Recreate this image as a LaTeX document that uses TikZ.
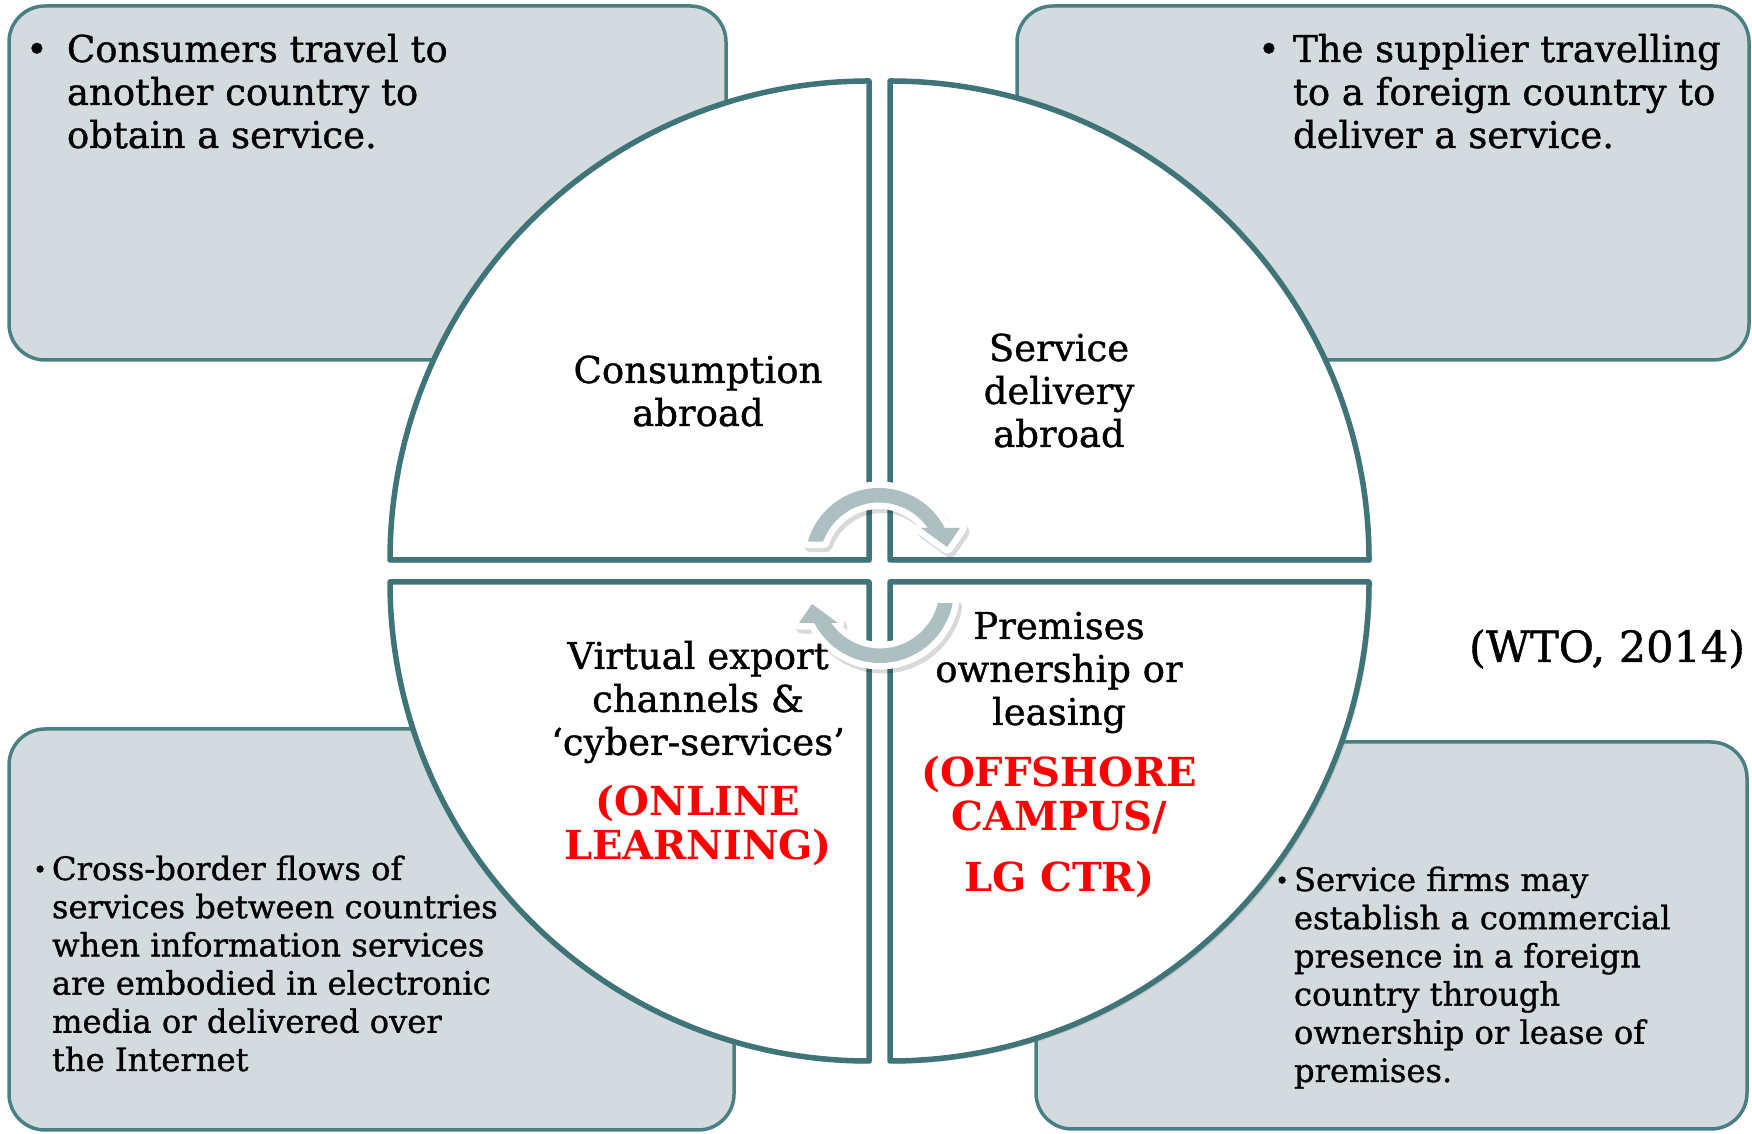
\documentclass[tikz,border=0pt]{standalone}
\usepackage{fontspec}
\setmainfont{DejaVu Serif}[FakeBold=1.0]
\newfontfamily\redfont{DejaVu Serif Bold}
\usetikzlibrary{shadows}
\definecolor{quadline}{HTML}{3F7479}
\definecolor{boxline}{HTML}{4A7F84}
\definecolor{boxfill}{HTML}{D3DBDE}
\definecolor{cycfill}{HTML}{AEBFC2}
\definecolor{mred}{HTML}{FF0000}
\newcommand\bigtxt{\fontsize{37}{43}\selectfont}
\newcommand\smalltxt{\fontsize{32.2}{38.2}\selectfont}
\newcommand\redtxt{\redfont\fontsize{40}{44}\selectfont\color{mred}}
\newcommand\smallbullet{\makebox[19pt][l]{\fontsize{24}{24}\selectfont\raisebox{2pt}{•}}}
\newcommand\upcyc{(164:74) arc[start angle=164, end angle=27.4, radius=74]
  -- (81,34) -- (68,15) -- (42,34) -- (34.9:59.5) arc[start angle=34.9, end angle=160, radius=59.5] -- cycle}
\newcommand\lowcyc{(-11:74) arc[start angle=-11, end angle=-152.6, radius=74]
  -- (-81,-34) -- (-68,-15) -- (-42,-34) -- (214.9:59.5) arc[start angle=214.9, end angle=346.4, radius=59.5] -- cycle}
\begin{document}
\begin{tikzpicture}[x=1pt,y=1pt,
  infobox/.style={draw=boxline, line width=3.5pt, fill=boxfill, rounded corners=36pt},
  quadrant/.style={draw=quadline, line width=5.5pt, fill=white, line join=round,
     drop shadow={shadow xshift=3pt, shadow yshift=-3pt, opacity=0.25}},
  cycshadow/.style={draw=black, fill=black, opacity=0.15, line width=13pt, line join=round},
  cycrim/.style={draw=white, fill=white, line width=13pt, line join=round},
  cycbody/.style={fill=cycfill},
  lbl/.style={inner sep=0pt, outer sep=0pt}]
\useasboundingbox (0,0) rectangle (1752,1134);
% info boxes
\path[infobox] (9,774) rectangle (726,1128);
\path[infobox] (1017,774) rectangle (1749,1128);
\path[infobox] (9,4) rectangle (734,405);
\path[infobox] (1036,5) rectangle (1747,392);
% quadrants
\path[quadrant] (869,574) -- (390,574) arc[start angle=180, end angle=90, radius=479] -- cycle;
\path[quadrant] (890,574) -- (890,1053) arc[start angle=90, end angle=0, radius=479] -- cycle;
\path[quadrant] (869,552) -- (869,73) arc[start angle=270, end angle=180, radius=479] -- cycle;
\path[quadrant] (890,552) -- (1369,552) arc[start angle=0, end angle=-90, radius=479] -- cycle;
% box texts
\node[lbl, anchor=base west] (tltext) at (26,1072) {\bigtxt\begin{tabular}[t]{@{}l@{}l@{}}\makebox[41pt][l]{•}&Consumers travel to\\&another country to\\&obtain a service.\end{tabular}};
\node[lbl, anchor=base west] (trtext) at (1258,1072) {\bigtxt\begin{tabular}[t]{@{}l@{}l@{}}\makebox[35pt][l]{•}&The supplier travelling\\&to a foreign country to\\&deliver a service.\end{tabular}};
\node[lbl, anchor=base west] (bltext) at (33,254) {\smalltxt\begin{tabular}[t]{@{}l@{}l@{}}\smallbullet&Cross-border flows of\\&services between countries\\&when information services\\&are embodied in electronic\\&media or delivered over\\&the Internet\end{tabular}};
\node[lbl, anchor=base west] (brtext) at (1275,243) {\smalltxt\begin{tabular}[t]{@{}l@{}l@{}}\smallbullet&Service firms may\\&establish a commercial\\&presence in a foreign\\&country through\\&ownership or lease of\\&premises.\end{tabular}};
% quadrant texts
\node[lbl, anchor=base] (q1) at (698,751) {\bigtxt\begin{tabular}[t]{@{}c@{}}Consumption\\abroad\end{tabular}};
\node[lbl, anchor=base] (q2) at (1059,773) {\bigtxt\begin{tabular}[t]{@{}c@{}}Service\\delivery\\abroad\end{tabular}};
\node[lbl, anchor=base] (q3) at (698,465) {\bigtxt\begin{tabular}[t]{@{}c@{}}Virtual export\\channels \&\\‘cyber-services’\end{tabular}};
\node[lbl, anchor=base] (q3red) at (698,318) {\redtxt\begin{tabular}[t]{@{}c@{}}(ONLINE\\LEARNING)\end{tabular}};
\node[lbl, anchor=base] (q4) at (1059,495) {\bigtxt\begin{tabular}[t]{@{}c@{}}Premises\\ownership or\\leasing\end{tabular}};
\node[lbl, anchor=base] (q4red) at (1059,347) {\redtxt\begin{tabular}[t]{@{}c@{}}(OFFSHORE\\CAMPUS/\\[17pt]LG CTR)\end{tabular}};
\node[lbl, anchor=base east] (src) at (1745,472) {\fontsize{43}{48}\selectfont (WTO, 2014)};
% cycle arrows
\path[cycshadow, shift={(882,568)}] \upcyc;
\path[cycshadow, shift={(883,541)}] \lowcyc;
\path[cycrim, shift={(879,572)}] \upcyc;
\path[cycrim, shift={(880,545)}] \lowcyc;
\path[cycbody, shift={(879,572)}] \upcyc;
\path[cycbody, shift={(880,545)}] \lowcyc;
\end{tikzpicture}
\end{document}
